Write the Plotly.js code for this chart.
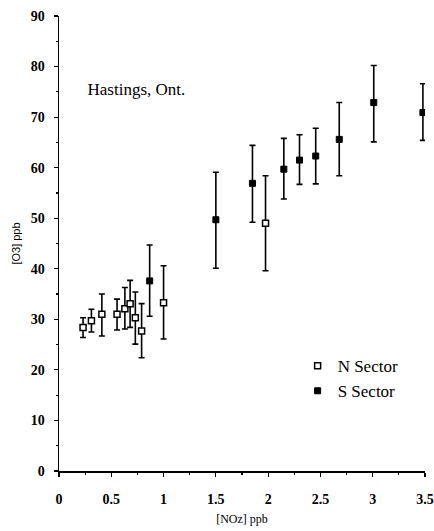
<!DOCTYPE html>
<html>
<head>
<meta charset="utf-8">
<script src="https://cdn.plot.ly/plotly-3.0.1.min.js"></script>
<style>html,body{margin:0;padding:0;background:#fff;}#chart{width:434px;height:531px;}</style>
</head>
<body>
<div id="chart"></div>
<script>
// N Sector (open squares)
const nX     = [0.23, 0.31, 0.41, 0.555, 0.63, 0.68, 0.73, 0.79, 1.0, 1.975];
const nY     = [28.4, 29.7, 31.0, 31.0, 32.1, 33.1, 30.3, 27.7, 33.3, 49.0];
const nUpper = [30.3, 32.0, 35.0, 34.0, 36.3, 37.7, 35.4, 33.1, 40.6, 58.4];
const nLower = [26.4, 27.5, 26.7, 27.9, 28.1, 28.4, 25.1, 22.4, 26.1, 39.6];
// S Sector (filled squares)
const sX     = [0.867, 1.50, 1.85, 2.15, 2.30, 2.455, 2.68, 3.01, 3.48];
const sY     = [37.6, 49.7, 56.9, 59.7, 61.5, 62.3, 65.6, 72.9, 70.9];
const sUpper = [44.7, 59.1, 64.4, 65.8, 66.5, 67.8, 72.9, 80.2, 76.6];
const sLower = [30.6, 40.1, 49.2, 53.8, 56.7, 56.8, 58.4, 65.1, 65.4];

const xTickVals = [0, 0.5, 1, 1.5, 2, 2.5, 3, 3.5];
const xTickText = ['0', '0.5', '1', '1.5', '2', '2.5', '3', '3.5'];
const yTickVals = [0, 10, 20, 30, 40, 50, 60, 70, 80, 90];

const serif = 'Liberation Serif, Times New Roman, serif';

function errs(y, up, lo) {
  return {
    type: 'data', symmetric: false,
    array: up.map((v, i) => +(v - y[i]).toFixed(2)),
    arrayminus: lo.map((v, i) => +(y[i] - v).toFixed(2)),
    color: '#000', thickness: 1.6, width: 3
  };
}

const traces = [
  {
    x: nX, y: nY, type: 'scatter', mode: 'markers', name: 'N Sector',
    marker: {symbol: 'square', size: 6, color: '#fff', line: {color: '#000', width: 1.5}},
    error_y: errs(nY, nUpper, nLower)
  },
  {
    x: sX, y: sY, type: 'scatter', mode: 'markers', name: 'S Sector',
    marker: {symbol: 'square', size: 6, color: '#000', line: {color: '#000', width: 1}},
    error_y: errs(sY, sUpper, sLower)
  }
];

const axisCommon = {
  showline: true, linecolor: '#000', linewidth: 1.5, showgrid: false, zeroline: false,
  ticks: 'outside', ticklen: 4, tickwidth: 1.2, tickcolor: '#000'
};

const layout = {
  width: 434, height: 531,
  margin: {l: 59, r: 9, t: 16, b: 60},
  paper_bgcolor: '#fff', plot_bgcolor: '#fff',
  showlegend: true,
  title: {
    text: 'Hastings, Ont.',
    font: {family: serif, size: 17, color: '#000'},
    xref: 'paper', x: 0.078, xanchor: 'left',
    yref: 'paper', y: 0.84, yanchor: 'middle'
  },
  xaxis: Object.assign({}, axisCommon, {
    range: [0, 3.5], tickmode: 'array', tickvals: xTickVals, ticktext: xTickText,
    ticklabelstandoff: 11,
    minor: {dtick: 0.25, ticks: 'outside', ticklen: 2, tickcolor: '#000'},
    tickfont: {family: serif, size: 14, color: '#000', weight: 'bold'},
    title: {text: '[NOz] ppb', font: {family: serif, size: 12, color: '#000'}, standoff: 8}
  }),
  yaxis: Object.assign({}, axisCommon, {
    range: [0, 90], tickmode: 'array', tickvals: yTickVals,
    ticklabelstandoff: 6,
    minor: {dtick: 5, ticks: 'outside', ticklen: 2, tickcolor: '#000'},
    tickfont: {family: serif, size: 14, color: '#000', weight: 'bold'},
    title: {text: '[O3] ppb', font: {family: 'Liberation Sans, Arial, sans-serif', size: 11, color: '#000'}, standoff: 8}
  }),
  xaxis2: {overlaying: 'x', anchor: 'y', side: 'bottom', range: [0, 3.5], tickmode: 'array', tickvals: xTickVals,
    showticklabels: false, ticks: 'inside', ticklen: 4, tickwidth: 1.2, tickcolor: '#000', showgrid: false, zeroline: false, showline: false},
  yaxis2: {overlaying: 'y', anchor: 'x', side: 'left', range: [0, 90], tickmode: 'array', tickvals: yTickVals,
    showticklabels: false, ticks: 'inside', ticklen: 4, tickwidth: 1.2, tickcolor: '#000', showgrid: false, zeroline: false, showline: false},
  legend: {
    x: 0.652, xanchor: 'left', y: 0.27, yanchor: 'top',
    bgcolor: 'rgba(0,0,0,0)', borderwidth: 0,
    font: {family: serif, size: 17, color: '#000'},
    itemwidth: 30, tracegroupgap: 0
  }
};

Plotly.newPlot('chart', traces, layout, {displayModeBar: false, staticPlot: true});
</script>
</body>
</html>
